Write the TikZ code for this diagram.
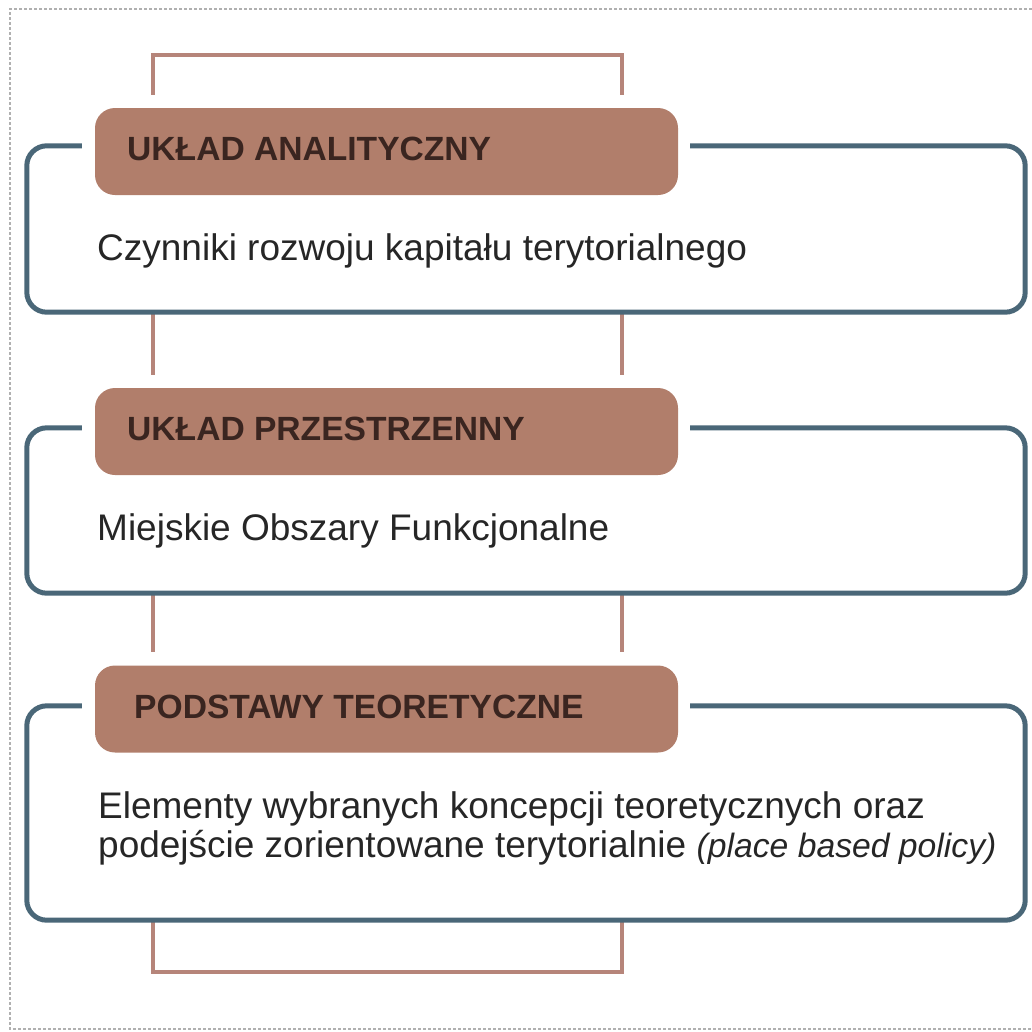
\documentclass[tikz,border=0pt]{standalone}
\usepackage{fontspec}
\setmainfont{Liberation Sans}
\definecolor{labelfill}{HTML}{B17E6B}
\definecolor{connbrown}{HTML}{B6857A}
\definecolor{outlineblue}{HTML}{4A6778}
\definecolor{labeltext}{HTML}{3A2520}
\definecolor{bodytext}{HTML}{262626}
\definecolor{framegray}{HTML}{B0B0B0}
\tikzset{
  labelbox/.style={fill=labelfill, draw=none, rounded corners=20pt, minimum width=583pt, minimum height=87pt, inner sep=0pt},
  boxarea/.style={draw=none, inner sep=0pt},
  outline/.style={draw=outlineblue, line width=5pt, rounded corners=20pt},
  conn/.style={draw=connbrown, line width=4pt},
  lbltext/.style={anchor=base west, inner sep=0pt, text=labeltext, font=\fontsize{33.6}{40}\selectfont\bfseries},
  bodytxt/.style={anchor=base west, inner sep=0pt, text=bodytext, font=\fontsize{37}{40}\selectfont},
  frame/.style={draw=framegray, line width=1.3pt, dash pattern=on 3pt off 2pt}
}
\begin{document}
\begin{tikzpicture}[x=1pt, y=-1pt]
\useasboundingbox (0,0) rectangle (1032,1031);
\draw[frame] (1032,9) -- (10,9) -- (10,1029) -- (1032,1029);

\coordinate (xL) at (153,0);
\coordinate (xR) at (622,0);
\coordinate (topL) at (153,55);
\coordinate (topR) at (622,55);
\coordinate (botL) at (153,972);
\coordinate (botR) at (622,972);

% invisible body areas
\node[boxarea, minimum width=998pt, minimum height=166pt] (b1) at (526,229) {};
\node[boxarea, minimum width=998pt, minimum height=165pt] (b2) at (526,510.5) {};
\node[boxarea, minimum width=998pt, minimum height=214pt] (b3) at (526,813) {};

% label boxes
\node[labelbox] (l1) at (386.5,151.5) {};
\node[labelbox] (l2) at (386.5,431.5) {};
\node[labelbox] (l3) at (386.5,709) {};

% brown connectors
\draw[conn] ([yshift=13pt]l1.north -| xL) -- (topL) -- (topR) -- ([yshift=13pt]l1.north -| xR);
\draw[conn] (b1.south -| xL) -- ([yshift=13pt]l2.north -| xL);
\draw[conn] (b1.south -| xR) -- ([yshift=13pt]l2.north -| xR);
\draw[conn] (b2.south -| xL) -- ([yshift=13pt]l3.north -| xL);
\draw[conn] (b2.south -| xR) -- ([yshift=13pt]l3.north -| xR);
\draw[conn] (b3.south -| xL) -- (botL) -- (botR) -- (b3.south -| xR);

% blue outlines with gap for label
\foreach \b in {b1,b2,b3}{
  \draw[outline] ([xshift=55pt]\b.north west) -- (\b.north west) -- (\b.south west) -- (\b.south east) -- (\b.north east) -- ([xshift=-335pt]\b.north east);
}

% label texts
\node[lbltext] (t1) at (127,160) {UKŁAD ANALITYCZNY};
\node[lbltext] (t2) at (127,440) {UKŁAD PRZESTRZENNY};
\node[lbltext] (t3) at (134,718) {PODSTAWY TEORETYCZNE};

% body texts
\node[bodytxt] (d1) at (97,260) {Czynniki rozwoju kapitału terytorialnego};
\node[bodytxt] (d2) at (97,540) {Miejskie Obszary Funkcjonalne};
\node[bodytxt] (d3a) at (98,818) {Elementy wybranych koncepcji teoretycznych oraz};
\node[bodytxt] (d3b) at (98,857) {podejście zorientowane terytorialnie {\fontsize{33.7}{38}\selectfont\itshape(place based policy)}};
\end{tikzpicture}
\end{document}
